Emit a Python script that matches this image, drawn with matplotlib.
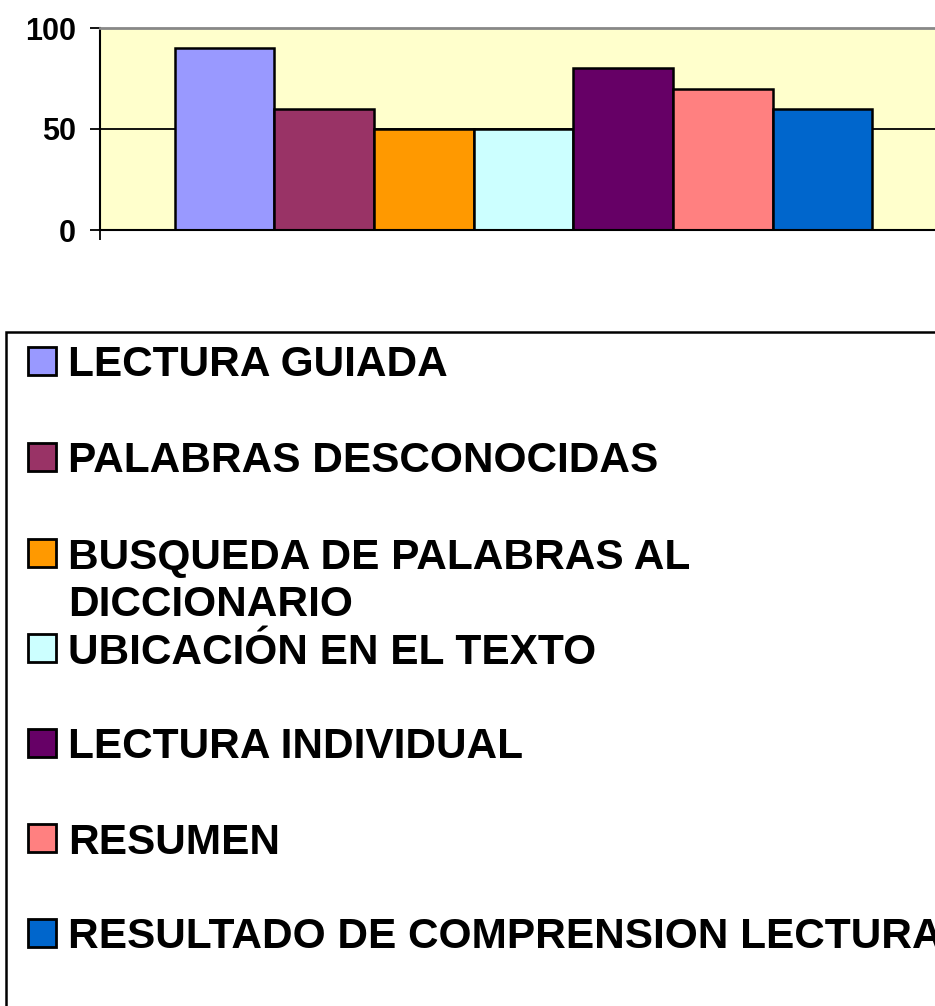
import matplotlib
matplotlib.use("Agg")
import matplotlib.pyplot as plt
from matplotlib.patches import Rectangle

labels = ["LECTURA GUIADA", "PALABRAS DESCONOCIDAS", "BUSQUEDA DE PALABRAS AL\nDICCIONARIO",
          "UBICACIÓN EN EL TEXTO", "LECTURA INDIVIDUAL", "RESUMEN",
          "RESULTADO DE COMPRENSION LECTURA"]
values = [90, 60, 50, 50, 80, 70, 60]
colors = ["#9999FF", "#993366", "#FF9900", "#CCFFFF", "#660066", "#FF8080", "#0066CC"]
yticks = [0, 50, 100]

plt.rcParams['font.family'] = ['Liberation Sans', 'DejaVu Sans']
plt.rcParams['font.weight'] = 'bold'

W, H = 935, 1006
fig = plt.figure(figsize=(W / 100, H / 100), dpi=100)

ax = fig.add_axes([100 / W, 1 - 230 / H, (947 - 100) / W, (230 - 28) / H])
ax.set_facecolor("#FFFFCC")
w = 1 / 8.5
n = len(values)
for i, (v, c) in enumerate(zip(values, colors)):
    ax.bar((i - (n - 1) / 2) * w, v, width=w, color=c, edgecolor="black", linewidth=1.8, zorder=3)
ax.set_xlim(-0.5, 0.5)
ax.set_ylim(0, 100)
ax.set_yticks(yticks)
ax.set_yticklabels([str(t) for t in yticks], fontsize=22, fontweight='bold')
ax.yaxis.grid(True, color="black", linewidth=1.3, zorder=1)
ax.set_xticks([-0.5, 0.5])
ax.set_xticklabels(["", ""])
ax.tick_params(axis='y', direction='out', length=7.5, width=1.3, pad=10)
ax.tick_params(axis='x', direction='out', length=7.5, width=1.3)
for s in ['left', 'bottom']:
    ax.spines[s].set_color('black')
    ax.spines[s].set_linewidth(1.5)
ax.spines['top'].set_color('#888888')
ax.spines['top'].set_linewidth(2)
ax.spines['right'].set_visible(False)
ax.spines['bottom'].set_zorder(4)

# Legend box (manual)
fig.patches.append(Rectangle((6 / W, -0.05), (W + 20) / W, 1.05 - 332 / H, transform=fig.transFigure,
                             facecolor='white', edgecolor='black', linewidth=1.8, zorder=1))
row_y = [361, 457, 553, 648, 743, 838, 933]
for lab, c, y in zip(labels, colors, row_y):
    fig.patches.append(Rectangle((28 / W, 1 - (y + 14) / H), 28 / W, 28 / H, transform=fig.transFigure,
                                 facecolor=c, edgecolor='black', linewidth=2, zorder=2))
    for k, line in enumerate(lab.split("\n")):
        base = y + 15.5 + 47 * k
        fig.text(68 / W, 1 - base / H, line, fontsize=30.5, fontweight='bold', va='baseline', ha='left',
                 zorder=3)

fig.savefig("out.png", dpi=100)
